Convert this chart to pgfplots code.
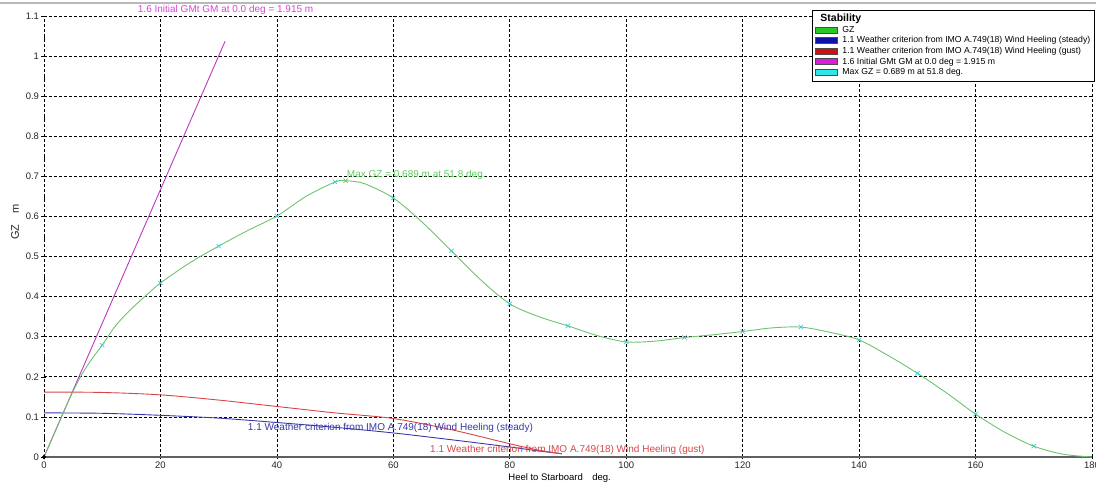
\documentclass[border=0pt]{standalone}
\usepackage{pgfplots}
\pgfplotsset{compat=1.18}
\usepackage{fontspec}
\setmainfont{Liberation Sans}
\definecolor{gzline}{RGB}{110,195,110}
\definecolor{gztext}{RGB}{95,205,95}
\definecolor{gzfill}{RGB}{40,200,40}
\definecolor{stline}{RGB}{55,55,170}
\definecolor{stfill}{RGB}{15,15,170}
\definecolor{guline}{RGB}{215,70,70}
\definecolor{gufill}{RGB}{210,15,15}
\definecolor{gmline}{RGB}{190,55,190}
\definecolor{gmfill}{RGB}{220,30,220}
\definecolor{gmtext}{RGB}{215,70,215}
\definecolor{cyanmk}{RGB}{60,205,210}
\definecolor{cyfill}{RGB}{50,230,230}
\begin{document}
\begin{tikzpicture}
\path[use as bounding box] (0,0) rectangle (1096pt,485pt);
\draw[gray!55, line width=1.2pt] (0,482pt) -- (1096pt,482pt);
\begin{axis}[
  at={(44pt,28pt)}, anchor=south west,
  scale only axis, width=1048pt, height=441pt,
  xmin=0, xmax=180, ymin=0, ymax=1.1,
  xtick={0,20,40,60,80,100,120,140,160,180},
  ytick={0,0.1,0.2,0.3,0.4,0.5,0.6,0.7,0.8,0.9,1,1.1},
  yticklabels={0,0.1,0.2,0.3,0.4,0.5,0.6,0.7,0.8,0.9,1,1.1},
  grid=major,
  major grid style={black, dash pattern=on 3pt off 2pt, line width=0.75pt},
  axis x line=bottom, axis y line=left,
  x axis line style={draw=gray!75!black, line width=1.3pt, -},
  y axis line style={draw=none, -},
  tick align=center, major tick length=5pt,
  tick style={black, line width=0.6pt},
  tick label style={font=\fontsize{9.5}{10}\selectfont, text=black!85},
  /pgf/number format/assume math mode=true,
  xticklabel style={yshift=1pt},
  yticklabel style={xshift=1pt},
  xlabel={Heel to Starboard\quad deg.},
  ylabel={GZ\quad m},
  xlabel style={at={(axis description cs:0.492,0)}, anchor=north, yshift=-13pt, font=\fontsize{9.5}{10}\selectfont},
  ylabel style={at={(axis description cs:-0.0277,0.533)}, anchor=center, font=\fontsize{11}{12}\selectfont, text=black!85},
  clip=false,
  legend style={at={(axis description cs:0.7328,1.0136)}, anchor=north west,
    draw=black, line width=0.6pt, fill=white,
    font=\fontsize{8.7}{10}\selectfont,
    inner xsep=3pt, inner ysep=3.5pt, row sep=0pt, column sep=4pt,
    nodes={inner sep=0.8pt, text height=7pt, text depth=2pt}},
  legend cell align=left,
  legend image code/.code={\draw[#1, draw=black!70, line width=0.4pt] (0pt,-3pt) rectangle (22pt,3pt);},
]
\addlegendimage{empty legend}
\addlegendentry{\hspace*{-22pt}\fontsize{10.5}{11}\selectfont\bfseries\rule{0pt}{9pt}Stability}
\addlegendimage{fill=gzfill}
\addlegendentry{GZ}
\addlegendimage{fill=stfill}
\addlegendentry{1.1 Weather criterion from IMO A.749(18) Wind Heeling (steady)}
\addlegendimage{fill=gufill}
\addlegendentry{1.1 Weather criterion from IMO A.749(18) Wind Heeling (gust)}
\addlegendimage{fill=gmfill}
\addlegendentry{1.6 Initial GMt GM at 0.0 deg = 1.915 m}
\addlegendimage{fill=cyfill}
\addlegendentry{Max GZ = 0.689 m at 51.8 deg.}

% minor vertical tick marks on y axis
\addplot[only marks, mark=|, mark size=2.5pt, black, line width=0.6pt, forget plot] coordinates {
(0,0.05) (0,0.15) (0,0.25) (0,0.35) (0,0.45) (0,0.55) (0,0.65) (0,0.75) (0,0.85) (0,0.95) (0,1.05)};

% wind heeling (steady)
\addplot[stline, line width=0.9pt, smooth, forget plot] coordinates {
(0,0.110) (10,0.109) (20,0.104) (30,0.097) (40,0.086) (50,0.074) (60,0.060) (70,0.043) (80,0.025) (85,0.015) (89,0.008)};
% wind heeling (gust)
\addplot[guline, line width=0.9pt, smooth, forget plot] coordinates {
(0,0.162) (10,0.161) (20,0.155) (30,0.142) (40,0.126) (50,0.110) (60,0.096) (70,0.068) (80,0.033) (85,0.017) (89,0.008)};
% initial GM line
\addplot[gmline, line width=0.9pt, forget plot] coordinates {(0,0) (31.1,1.037)};

% GZ curve
\addplot[gzline, line width=0.9pt, smooth, tension=0.5, forget plot] coordinates {
(0,0) (2,0.067) (4,0.133) (6,0.193) (8,0.240) (10,0.279) (12,0.322) (14,0.355) (16,0.383) (18,0.409) (20,0.434)
(25,0.484) (30,0.526) (35,0.565) (40,0.601) (45,0.650) (50,0.686) (51.8,0.689) (55,0.682) (60,0.646)
(65,0.585) (70,0.514) (75,0.442) (80,0.382) (85,0.350) (90,0.327) (95,0.303) (100,0.287) (105,0.289)
(110,0.298) (115,0.305) (120,0.313) (125,0.322) (130,0.324) (135,0.311) (140,0.292) (145,0.253)
(150,0.209) (155,0.160) (160,0.107) (165,0.062) (170,0.027) (175,0.007) (180,0)};
% GZ markers
\addplot[only marks, mark=x, mark size=3pt, cyanmk, line width=0.7pt, forget plot] coordinates {
(10,0.279) (20,0.434) (30,0.526) (40,0.601) (50,0.686) (60,0.646) (70,0.514) (80,0.382) (90,0.327)
(100,0.287) (110,0.298) (120,0.313) (130,0.324) (140,0.292) (150,0.209) (160,0.107) (170,0.027)};
\addplot[only marks, mark=x, mark size=3pt, gzline, line width=0.7pt, forget plot] coordinates {(51.8,0.689)};
% origin marker
\addplot[only marks, mark=diamond*, mark size=2.2pt, black, forget plot] coordinates {(0,0)};

% curve labels
\node[anchor=west, text=gmtext, font=\fontsize{10}{11}\selectfont, inner sep=0pt] at (axis cs:16.1,1.115) {1.6 Initial GMt GM at 0.0 deg = 1.915 m};
\node[anchor=west, text=gztext, font=\fontsize{10}{11}\selectfont, inner sep=0pt] at (axis cs:52.0,0.703) {Max GZ = 0.689 m at 51.8 deg.};
\node[anchor=west, text=stline, font=\fontsize{10}{11}\selectfont, inner sep=0pt] at (axis cs:35.0,0.072) {1.1 Weather criterion from IMO A.749(18) Wind Heeling (steady)};
\node[anchor=west, text=guline, font=\fontsize{10}{11}\selectfont, inner sep=0pt] at (axis cs:66.3,0.017) {1.1 Weather criterion from IMO A.749(18) Wind Heeling (gust)};
\end{axis}
\end{tikzpicture}
\end{document}
